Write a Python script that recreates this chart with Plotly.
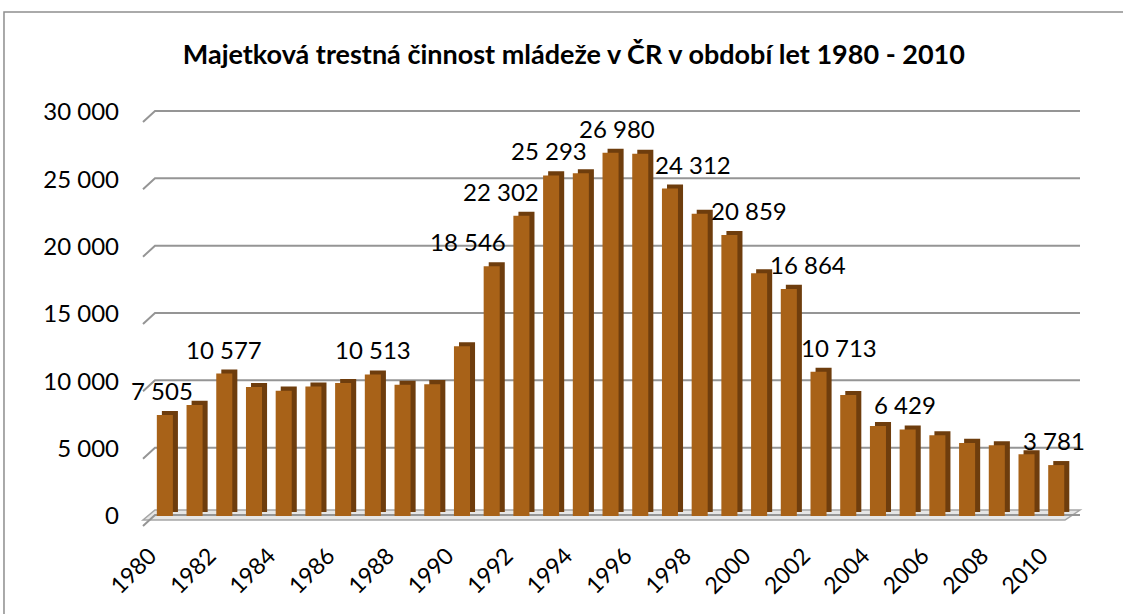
import plotly.graph_objects as go

years = list(range(1980, 2011))
offences = [7505, 8250, 10577, 9570, 9310, 9610, 9870, 10513, 9740, 9790,
            12600, 18546, 22302, 25293, 25450, 26980, 26900, 24312, 22440, 20859,
            18030, 16864, 10713, 8990, 6680, 6429, 6000, 5430, 5260, 4590, 3781]
labelled_years = [1980, 1982, 1987, 1991, 1992, 1993, 1995, 1997, 1999, 2001, 2002, 2005, 2010]
y_ticks = [0, 5000, 10000, 15000, 20000, 25000, 30000]
y_tick_text = ["0", "5 000", "10 000", "15 000", "20 000", "25 000", "30 000"]

FONT = "Lato"
FRONT = "#a86218"
SIDE = "#6e3d0d"
GRID = "#959595"
DEPTH = 300  # fake 3d depth in value units (~4px)
Y_MAX = 30000

# labels in the original were nudged sideways so they don't overlap
label_shift = {1991: -24, 1992: -20, 1993: -2, 1995: 6, 1997: 23, 1999: 20,
               2001: 19, 2002: 20, 1980: -3, 2005: -3, 2010: -2}


def fmt(v):
    return "{:,}".format(v).replace(",", " ")


fig = go.Figure()

# dark "side + top" of the pseudo 3d bars
fig.add_trace(go.Bar(x=years, y=offences, base=DEPTH,
                     width=0.54, offset=-0.10, marker=dict(color=SIDE, line=dict(width=0)),
                     hoverinfo="skip"))
# front face
fig.add_trace(go.Bar(x=years, y=offences, width=0.54, offset=-0.27,
                     marker=dict(color=FRONT, line=dict(width=0))))

shapes = []
# floor
shapes.append(dict(type="path", xref="paper", yref="paper", xsizemode="pixel", ysizemode="pixel",
                   xanchor=0, yanchor=0,
                   path="M -7,-4 L 915,-4 L 930,6 L 5,6 Z",
                   fillcolor="#e6e6e6", line=dict(color="#a6a6a6", width=1.5), layer="below"))
# back gridlines with their little diagonal stubs on the left
for t in y_ticks:
    shapes.append(dict(type="path", xref="paper", yref="paper", xsizemode="pixel", ysizemode="pixel",
                       xanchor=0, yanchor=t / Y_MAX,
                       path="M -7,-10 L 5,1 L 930,1",
                       line=dict(color=GRID, width=2), layer="below"))
# chart border (partially cropped in the original)
shapes.append(dict(type="rect", xref="paper", yref="paper", x0=-0.157, y0=-0.4, x1=1.2, y1=1.2475,
                   line=dict(color="#8e8e8e", width=1.5)))

annotations = []
for yr, v in zip(years, offences):
    if yr not in labelled_years:
        continue
    annotations.append(dict(x=yr, y=v, text=fmt(v), showarrow=False, yanchor="bottom",
                            yshift=8, xshift=label_shift.get(yr, 0),
                            font=dict(family=FONT, size=24, color="#000000")))

fig.update_layout(
    width=1123, height=614,
    margin=dict(l=150, r=43, t=112, b=98, autoexpand=False),
    paper_bgcolor="white", plot_bgcolor="white",
    showlegend=False, barmode="overlay",
    title=dict(text="<b>Majetková trestná činnost mládeže v ČR v období let 1980 - 2010</b>",
               x=0.511, xref="container", xanchor="center",
               y=1 - 55 / 614, yref="container", yanchor="middle",
               font=dict(family=FONT, size=27, color="#000000")),
    shapes=shapes, annotations=annotations,
)
fig.update_xaxes(range=[1979.5, 2010.8], tickvals=years[::2], ticktext=[str(y) for y in years[::2]],
                 tickangle=-45, showgrid=False, zeroline=False, showline=False, ticks="",
                 ticklabelstandoff=21, ticklabelshift=-15,
                 tickfont=dict(family=FONT, size=23, color="#000000"))
fig.update_yaxes(range=[0, Y_MAX], tickvals=y_ticks, ticktext=y_tick_text,
                 showgrid=False, zeroline=False, showline=False,
                 ticks="", ticklabelstandoff=30,
                 tickfont=dict(family=FONT, size=24, color="#000000"))

# page body has an 8px default margin which would push the chart off its frame
fig.write_html("out.html", config={"displayModeBar": False},
               post_script="document.body.style.margin='0';")
